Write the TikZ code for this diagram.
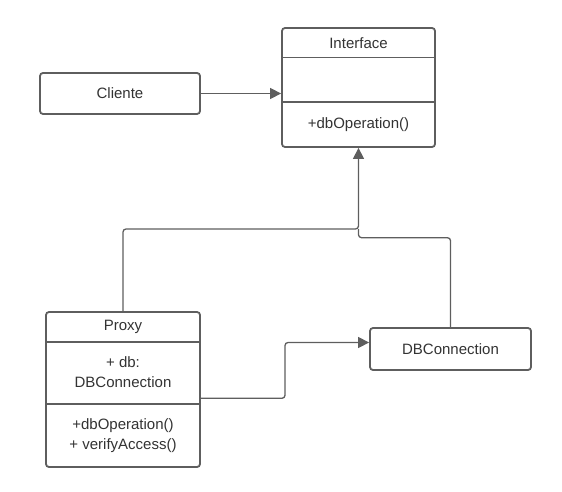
\documentclass[tikz,border=0pt]{standalone}
\usepackage{fontspec}
\setmainfont{Liberation Sans}
\usetikzlibrary{arrows.meta,calc}
\definecolor{edge}{HTML}{5E5E5E}
\definecolor{ink}{HTML}{333333}
\tikzset{
  box/.style={draw=edge, line width=1.8pt, rounded corners=3pt, fill=white, inner sep=0pt},
  divider/.style={draw=edge, line width=1.8pt},
  lbl/.style={text=ink, font=\fontsize{15}{20}\selectfont, align=center, inner sep=0pt},
  conn/.style={draw=edge, line width=1.3pt, rounded corners=3pt},
  arr/.style={-{Triangle[length=11pt,width=11pt]}}
}
\begin{document}
\begin{tikzpicture}[x=1pt,y=-1pt]
\useasboundingbox (0,0) rectangle (562,492);
% boxes
\node[box, minimum width=153pt, minimum height=119pt] (iface) at (358.5,87.5) {};
\node[box, minimum width=160pt, minimum height=41pt] (cliente) at (120,93.5) {};
\node[box, minimum width=154pt, minimum height=155pt] (proxy) at (123,389.5) {};
\node[box, minimum width=161pt, minimum height=42pt] (db) at (450.5,349) {};
% dividers
\draw[divider] (iface.west |- 0,57.5) -- (iface.east |- 0,57.5);
\draw[divider] (iface.west |- 0,102) -- (iface.east |- 0,102);
\draw[divider] (proxy.west |- 0,342.3) -- (proxy.east |- 0,342.3);
\draw[divider] (proxy.west |- 0,404.3) -- (proxy.east |- 0,404.3);
% texts
\node[lbl] (ifacetitle) at (358.5,43) {Interface};
\node[lbl] (ifaceops) at (358.5,125) {+dbOperation()};
\node[lbl] (clientetxt) at (cliente) {Cliente};
\node[lbl] (proxytitle) at (123,327) {Proxy};
\node[lbl] (proxyattr) at (123,372) {+ db:\\DBConnection};
\node[lbl] (proxyops) at (123,435.5) {+dbOperation()\\+ verifyAccess()};
\node[lbl] (dbtxt) at (db) {DBConnection};
% connectors
\coordinate (join) at (358.5,229);
\draw[conn, arr] (cliente.east) -- (iface.west |- cliente.east);
\draw[conn, arr] (proxy.north) |- (join) -- (iface.south);
\draw[conn] (db.north) |- (358.5,237.7) -- (join);
\coordinate (pdstart) at (proxy.east |- 0,398.3);
\coordinate (pdend) at (db.west |- 0,342.5);
\draw[conn, arr] (pdstart) -- (285,398.3) |- (pdend);
\end{tikzpicture}
\end{document}
